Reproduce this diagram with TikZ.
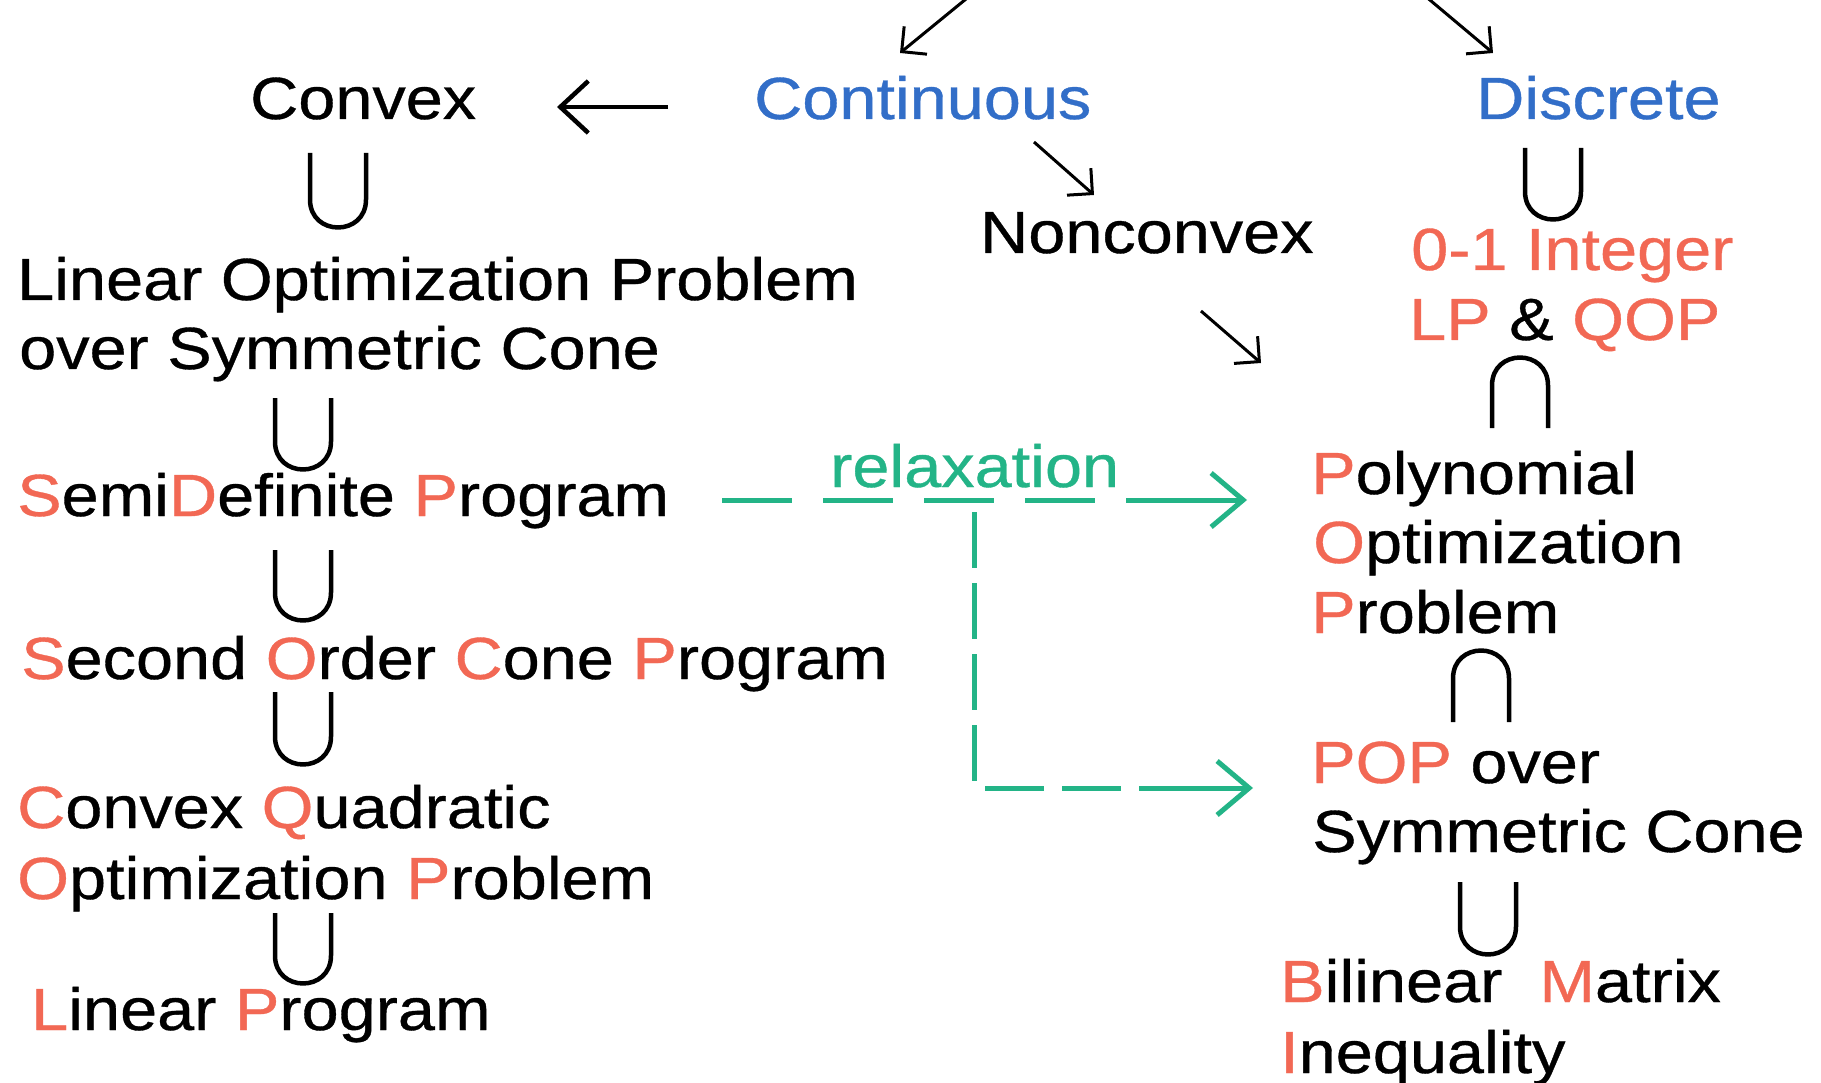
\documentclass[tikz,border=0pt]{standalone}
\usepackage{fontspec}
\setmainfont[FakeStretch=1.12,FakeBold=0.6]{Liberation Sans}
\usetikzlibrary{arrows.meta}
\definecolor{redl}{RGB}{242,104,84}
\definecolor{bluel}{RGB}{50,110,200}
\definecolor{greenl}{RGB}{35,180,135}
\newcommand\rl[1]{\textcolor{redl}{#1}}
\newcommand\bigfont{\fontsize{59.5pt}{70pt}\selectfont}
% U-shape: center x, top y, bottom y (outer)
\newcommand\cupshape[3]{%
  \draw[cupline] (#1-28,#2) -- (#1-28,#3-30.5)
    .. controls (#1-28,#3+6.8) and (#1+28,#3+6.8) .. (#1+28,#3-30.5) -- (#1+28,#2);}
\newcommand\capshape[3]{%
  \draw[cupline] (#1-28,#3) -- (#1-28,#2+30.5)
    .. controls (#1-28,#2-6.8) and (#1+28,#2-6.8) .. (#1+28,#2+30.5) -- (#1+28,#3);}
\begin{document}
\begin{tikzpicture}[x=1pt,y=-1pt,
  txt/.style={anchor=base west,inner sep=0pt,font=\bigfont},
  cupline/.style={line width=4.5pt,black},
  blk/.style={line width=3pt,-{Straight Barb[length=18pt,width=36pt,line width=3pt]}},
  blkthick/.style={line width=4.5pt,-{Straight Barb[length=28pt,width=52pt,line width=4.5pt]}},
  gline/.style={line width=5pt,greenl},
  garrow/.style={line width=5pt,greenl,-{Straight Barb[length=32pt,width=54pt,line width=5pt]}}
]
\useasboundingbox (0,0) rectangle (1821,1083);
\fill[white] (0,0) rectangle (1821,1083);

% texts
\node[txt] (convex) at (250,119) {Convex};
\node[txt,text=bluel] (cont) at (754,119) {Continuous};
\node[txt,text=bluel] (disc) at (1476,119) {Discrete};
\node[txt] (noncvx) at (980,253) {Nonconvex};
\node[txt,text=redl] (int1) at (1411,270) {0-1 Integer};
\node[txt] (int2) at (1409,340) {\rl{LP} \& \rl{QOP}};
\node[txt] (lop1) at (17,300) {Linear Optimization Problem};
\node[txt] (lop2) at (19,369) {over Symmetric Cone};
\node[txt] (sdp) at (17,516) {\rl{S}emi\rl{D}efinite \rl{P}rogram};
\node[txt] (socp) at (21,679) {\rl{S}econd \rl{O}rder \rl{C}one \rl{P}rogram};
\node[txt] (cqop1) at (17,828) {\rl{C}onvex \rl{Q}uadratic};
\node[txt] (cqop2) at (17,899) {\rl{O}ptimization \rl{P}roblem};
\node[txt] (lp) at (31,1030) {\rl{L}inear \rl{P}rogram};
\node[txt,text=greenl] (relax) at (830,487) {relaxation};
\node[txt] (pop1) at (1311,494) {\rl{P}olynomial};
\node[txt] (pop2) at (1313,563) {\rl{O}ptimization};
\node[txt] (pop3) at (1311,633) {\rl{P}roblem};
\node[txt] (popsc1) at (1311,783) {\rl{POP} over};
\node[txt] (popsc2) at (1312,852) {Symmetric Cone};
\node[txt] (bmi1) at (1280,1002) {\rl{B}ilinear\ \ \rl{M}atrix};
\node[txt] (bmi2) at (1280,1073) {\rl{I}nequality};

% inclusion symbols
\cupshape{338}{153}{230}
\cupshape{303}{398}{472}
\cupshape{303}{550}{623}
\cupshape{303}{692}{767}
\cupshape{303}{913}{986}
\cupshape{1553}{148}{222}
\capshape{1520}{355}{428}
\capshape{1481}{648}{722}
\cupshape{1488}{882}{957}

% black arrows
\coordinate (topL) at (977,-10);
\coordinate (contIn) at (900,53);
\coordinate (topR) at (1418,-10);
\coordinate (discIn) at (1493,53);
\coordinate (contOut) at (1034,142);
\coordinate (noncIn) at (1094,195);
\coordinate (noncOut) at (1201,311);
\coordinate (popIn) at (1261,363);
\coordinate (contW) at (668,107);
\coordinate (convE) at (557,107);
\draw[blk] (topL) -- (contIn);
\draw[blk] (topR) -- (discIn);
\draw[blk] (contOut) -- (noncIn);
\draw[blk] (noncOut) -- (popIn);
\draw[blkthick] (contW) -- (convE);

% relaxation connectors
\coordinate (sdpE) at (722,500);
\coordinate (r1) at (1127,500);
\coordinate (pop1W) at (1247,500);
\coordinate (branch) at (974,512);
\coordinate (corner) at (974,782);
\coordinate (r2s) at (985,788);
\coordinate (r2) at (1152,788);
\coordinate (popsc1W) at (1253,788);
\draw[gline,dash pattern=on 70pt off 31pt] (sdpE) -- (r1);
\draw[garrow] (r1) -- (pop1W);
\draw[gline,dash pattern=on 56pt off 15pt] (branch) -- (corner);
\draw[gline,dash pattern=on 59pt off 18pt] (r2s) -- (r2);
\draw[garrow] (r2) -- (popsc1W);
\end{tikzpicture}
\end{document}
